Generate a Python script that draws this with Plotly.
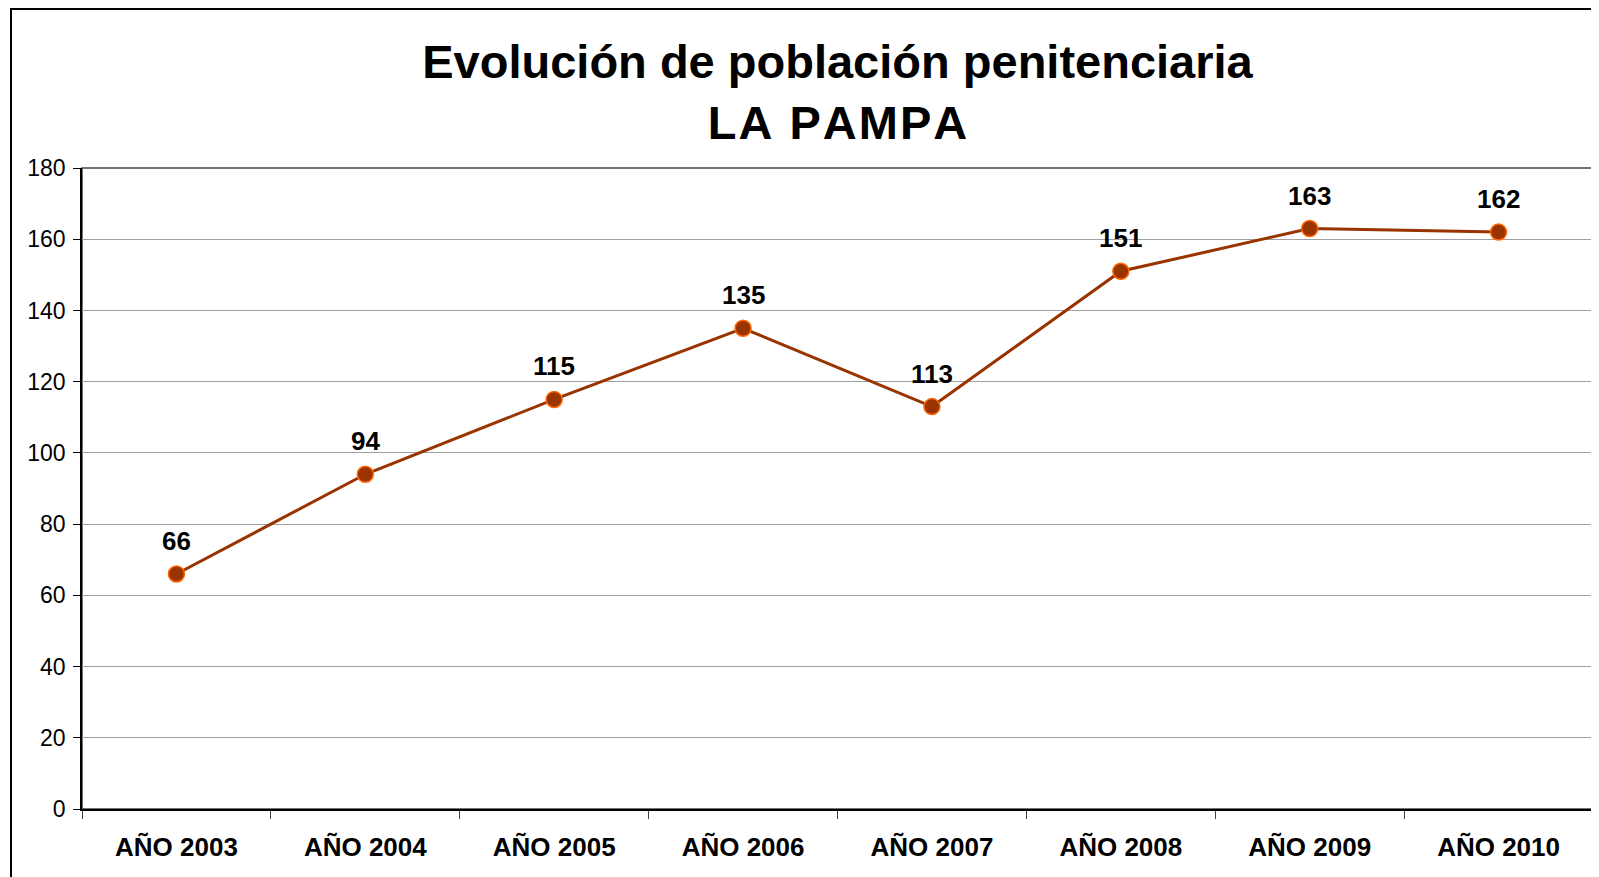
import plotly.graph_objects as go

years = ["AÑO 2003", "AÑO 2004", "AÑO 2005", "AÑO 2006",
         "AÑO 2007", "AÑO 2008", "AÑO 2009", "AÑO 2010"]
poblacion = [66, 94, 115, 135, 113, 151, 163, 162]

# page body has an 8px margin, so the figure is a bit smaller than the window
W, H = 1591, 869
L, R, T, B = 74, 6, 160, 68
pw = W - L - R
ph = H - T - B
FONT = "Liberation Sans, Arial"

fig = go.Figure()
fig.add_trace(go.Scatter(
    x=years, y=poblacion, mode="lines+markers",
    line=dict(color="#993300", width=3),
    marker=dict(size=16, color="#993300", line=dict(color="#FF6600", width=1.5)),
    cliponaxis=False, showlegend=False,
))

for yr, v in zip(years, poblacion):
    fig.add_annotation(x=yr, y=v, text="<b>%d</b>" % v, showarrow=False,
                       yanchor="bottom", yshift=16,
                       font=dict(family=FONT, size=26, color="black"))

# outer chart border
fig.add_shape(type="rect", xref="paper", yref="paper", layer="below",
              x0=(3 - L) / pw, x1=(W + 10 - L) / pw,
              y0=-(B + 10) / ph, y1=(H - B - 1) / ph,
              line=dict(color="black", width=2))
# plot area border
fig.add_shape(type="rect", xref="paper", yref="paper", layer="below",
              x0=0, x1=1, y0=0, y1=1, line=dict(color="#444", width=1.5))

# the second title line is slightly letter-spaced in the original
hs = '<span style="font-size:24px">\u200a</span>'
line2 = hs.join("LA PAMPA")

fig.update_layout(
    width=W, height=H,
    margin=dict(l=L, r=R, t=T, b=B),
    paper_bgcolor="white", plot_bgcolor="white",
    font=dict(family=FONT, color="black"),
    title=dict(text="<b>Evolución de población penitenciaria<br>" + line2 + "</b>",
               x=0.5, xref="paper", xanchor="center",
               y=1 - 70 / H, yanchor="top", yref="container",
               font=dict(size=47, color="black")),
    xaxis=dict(type="category", tickson="boundaries", ticks="outside",
               ticklen=8, tickcolor="#444", showline=True, linecolor="black",
               linewidth=1.5, showgrid=False, ticklabelstandoff=14,
               tickfont=dict(size=26, family=FONT, weight="bold"),
               range=[-0.5, 7.5]),
    yaxis=dict(range=[0, 180], dtick=20, ticks="outside", ticklen=7,
               tickcolor="black", showline=True, linecolor="black",
               linewidth=1.5, gridcolor="#a0a0a0", gridwidth=1,
               zeroline=False, tickfont=dict(size=23), ticklabelstandoff=3),
)

fig.write_html("out.html")
